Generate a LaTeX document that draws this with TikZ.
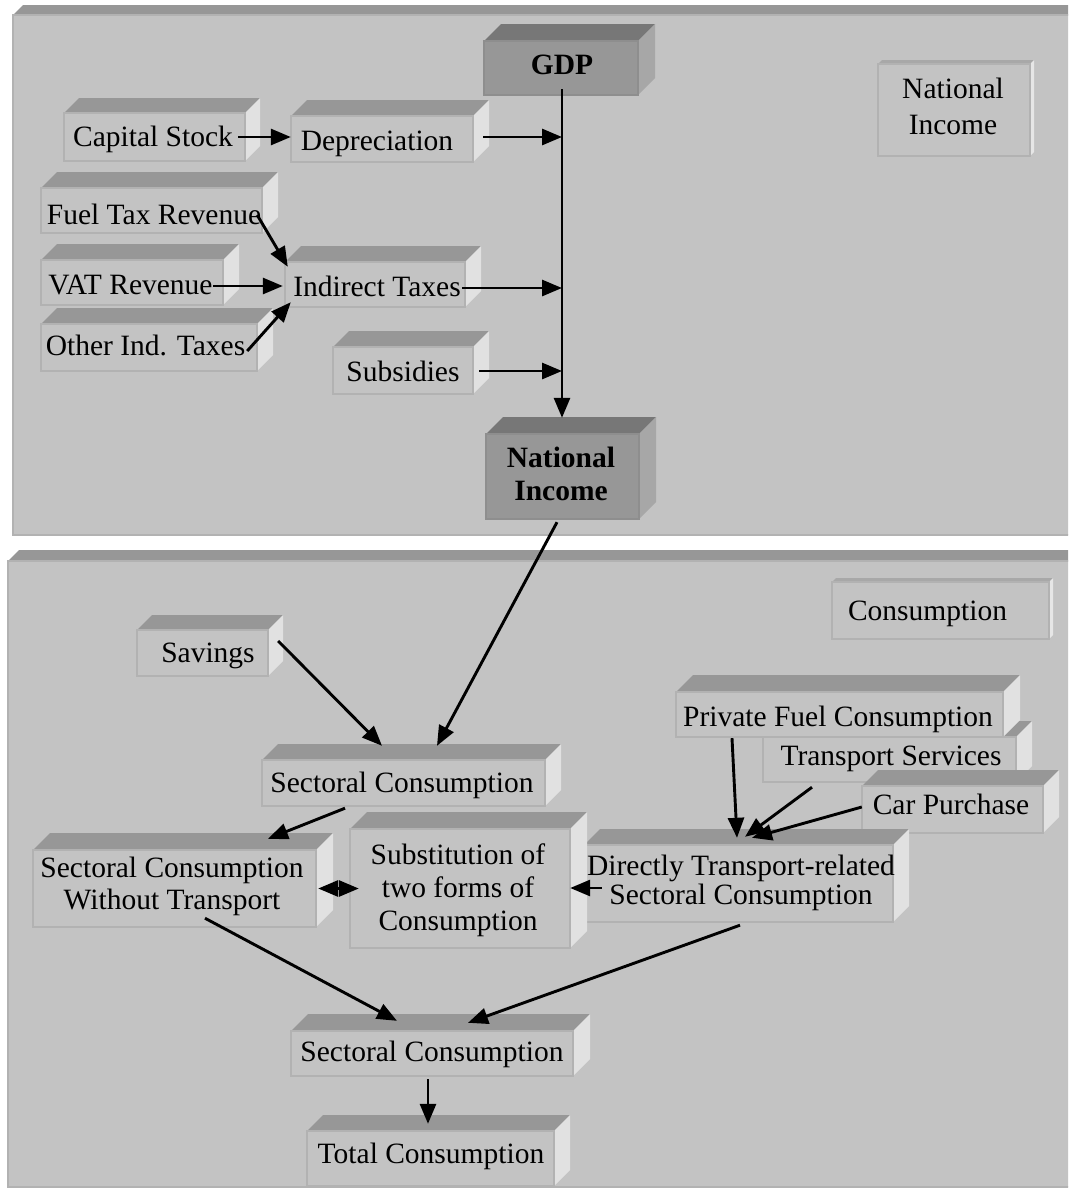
\documentclass[tikz,border=0pt]{standalone}
\usepackage{fontspec}
\setmainfont{Liberation Serif}
\usetikzlibrary{arrows.meta,calc,fit}

% shading tones for the bevelled slabs
\definecolor{ltTopC}{HTML}{979797}
\definecolor{ltSideC}{HTML}{E1E1E1}
\definecolor{ltFrontC}{HTML}{C3C3C3}
\definecolor{ltEdgeC}{HTML}{B2B2B2}
\definecolor{dkTopC}{HTML}{777777}
\definecolor{dkSideC}{HTML}{A7A7A7}
\definecolor{dkFrontC}{HTML}{979797}
\definecolor{dkEdgeC}{HTML}{8E8E8E}
\definecolor{lgTopC}{HTML}{A8A8A8}
\definecolor{lgSideC}{HTML}{E6E6E6}

\newcommand\lblfont{\fontsize{29.5}{32}\selectfont}

\tikzset{
  lttop/.style={fill=ltTopC},
  ltside/.style={fill=ltSideC},
  ltfront/.style={fill=ltFrontC},
  ltedge/.style={draw=ltEdgeC, line width=1.3pt},
  dktop/.style={fill=dkTopC},
  dkside/.style={fill=dkSideC},
  dkfront/.style={fill=dkFrontC},
  dkedge/.style={draw=dkEdgeC, line width=1.3pt},
  lgtop/.style={fill=lgTopC},
  lgside/.style={fill=lgSideC},
  lgfront/.style={fill=ltFrontC},
  lgedge/.style={draw=ltEdgeC, line width=1.3pt},
  pntop/.style={fill=ltTopC},
  pnside/.style={fill=ltSideC},
  pnfront/.style={fill=ltFrontC},
  pnedge/.style={draw=ltEdgeC, line width=2pt},
  lbl/.style={font=\lblfont, inner sep=0pt, anchor=base},
  blbl/.style={font={\lblfont\bfseries}, inner sep=0pt},
  mlbl/.style={inner sep=0pt, align=center},
  arr/.style={line width=2.9pt, -{Triangle[length=20pt,width=16pt]}},
  dblarr/.style={line width=2.9pt, {Triangle[length=20pt,width=16pt]}-{Triangle[length=20pt,width=16pt]}},
}

% bevelled slab: tone, name, x1, y1, x2, y2 (front face), depth
\newcommand\slab[7][lt]{%
  \fill[#1top] (#3,#4) -- (#3+#7,#4-#7) -- (#5+#7,#4-#7) -- (#5,#4) -- cycle;
  \fill[#1side] (#5,#4) -- (#5+#7,#4-#7) -- (#5+#7,#6-#7) -- (#5,#6) -- cycle;
  \fill[#1front] (#3,#4) rectangle (#5,#6);
  \draw[#1edge] (#3,#4) rectangle (#5,#6);
  \node[fit={(#3,#4)(#5,#6)}, inner sep=0pt] (#2) {};
}

\begin{document}
\begin{tikzpicture}[x=1pt,y=-1pt]
\useasboundingbox (0,0) rectangle (1068,1191);
\clip (0,0) rectangle (1068,1191);

% the two panels
\slab[pn]{toppanel}{13}{15}{1090}{535}{10}
\slab[pn]{lowpanel}{8}{561}{1090}{1187}{11}

% income side
\slab[dk]{gdpbox}{484}{41}{638}{95}{17}
\slab[dk]{nibox}{486}{434}{639}{519}{17}
\slab[lg]{nikey}{878}{64}{1030}{156}{4}
\slab{capbox}{64}{113}{245}{161}{15}
\slab{depbox}{291}{116}{473}{162}{16}
\slab{fuelbox}{41}{188}{262}{233}{16}
\slab{vatbox}{41}{260}{223}{305}{16}
\slab{oitbox}{41}{324}{257}{371}{16}
\slab{itbox}{285}{262}{465}{307}{16}
\slab{subbox}{333}{347}{473}{394}{16}

% consumption side
\slab[lg]{conskey}{832}{582}{1049}{639}{4}
\slab{savbox}{137}{630}{268}{676}{15}
\slab{sconebox}{262}{760}{545}{806}{16}
\slab{tsbox}{763}{737}{1016}{782}{16}
\slab{pfcbox}{676}{692}{1003}{737}{17}
\slab{cpbox}{862}{786}{1043}{833}{16}
\slab{dirbox}{584}{845}{893}{922}{16}
\slab{scwtbox}{33}{850}{316}{927}{17}
\slab{subsbox}{350}{829}{570}{948}{17}
\slab{sctwobox}{291}{1031}{573}{1076}{17}
\slab{totbox}{307}{1131}{554}{1186}{16}

% labels
\node[blbl, anchor=base] (gdp) at (562,74) {GDP};
\node[blbl, mlbl, font={\fontsize{29.5}{33}\selectfont\bfseries}] (ni) at (561,474) {National\\Income};
\node[mlbl, font={\fontsize{29.5}{36}\selectfont}] (nik) at (953,106) {National\\Income};
\node[lbl] (cap) at (153,146) {Capital Stock};
\node[lbl] (dep) at (377,150) {Depreciation};
\node[lbl] (fuel) at (154,224) {Fuel Tax Revenue};
\node[lbl] (vat) at (130.5,294) {VAT Revenue};
\node[lbl] (oit) at (145.5,355) {Other Ind. Taxes};
\node[lbl] (it) at (377,296) {Indirect Taxes};
\node[lbl] (sub) at (403,381) {Subsidies};

\node[lbl] (cons) at (927.5,620) {Consumption};
\node[lbl] (sav) at (208,662) {Savings};
\node[lbl] (scone) at (402,792) {Sectoral Consumption};
\node[lbl] (pfc) at (838,726) {Private Fuel Consumption};
\node[lbl] (ts) at (891,765) {Transport Services};
\node[lbl] (cp) at (951,814) {Car Purchase};
\node[mlbl, font={\fontsize{29.5}{29}\selectfont}] (dir) at (741,883) {Directly Transport-related\\Sectoral Consumption};
\node[mlbl, font={\fontsize{29.5}{32}\selectfont}] (scwt) at (172,886) {Sectoral Consumption\\Without Transport};
\node[mlbl, font={\fontsize{29.5}{33}\selectfont}] (subs) at (458,890) {Substitution of\\two forms of\\Consumption};
\node[lbl] (sctwo) at (432,1061) {Sectoral Consumption};
\node[lbl] (tot) at (431,1163) {Total Consumption};

% GDP to national income
\coordinate (j1) at ($(gdpbox.south |- capbox.east)+(1,0)$);
\coordinate (j2) at ($(gdpbox.south |- itbox.east)+(1,3.5)$);
\coordinate (j3) at ($(gdpbox.south |- subbox.east)+(1,0.5)$);
\draw[arr] ($(gdpbox.south)+(1,-6)$) -- ($(gdpbox.south |- nibox.north)+(1,-16)$);
\draw[arr] ($(capbox.east)+(-7,0)$) -- (depbox.west |- capbox.east);
\draw[arr] ($(depbox.east)+(10,-2)$) -- (j1);
\draw[arr] ($(itbox.east)+(-3,3.5)$) -- (j2);
\draw[arr] ($(subbox.east)+(6,0.5)$) -- (j3);
\draw[arr] ($(fuelbox.east)+(-5,4.5)$) -- ($(itbox.north west)+(3,5)$);
\draw[arr] ($(vatbox.east)+(-10,3.5)$) -- ($(itbox.west)+(-2,1.5)$);
\draw[arr] ($(oitbox.east)+(-10,3.5)$) -- ($(itbox.south west)+(6,-5)$);

% consumption flows
\draw[arr] ($(nibox.south)+(-5.5,3)$) -- ($(sconebox.north)+(33.5,-14)$);
\draw[arr] ($(savbox.east)+(10,-12)$) -- ($(sconebox.north)+(-21.5,-14)$);
\draw[arr] ($(sconebox.south)+(-58.5,2)$) -- ($(scwtbox.north)+(93.5,-11)$);
\draw[dblarr] ($(scwtbox.east)+(2,0)$) -- ($(subsbox.west)+(9,0)$);
\draw[arr] ($(dirbox.west)+(18,4.5)$) -- ($(subsbox.east)+(0,-0.5)$);
\draw[arr] ($(pfcbox.south)+(-107.5,1)$) -- ($(dirbox.north)+(-1.5,-7)$);
\draw[arr] ($(tsbox.south)+(-77.5,5)$) -- ($(dirbox.north)+(6.5,-8)$);
\draw[arr] ($(cpbox.west)+(0,-2.5)$) -- ($(dirbox.north)+(13.5,-7)$);
\draw[arr] ($(scwtbox.south)+(30.5,-9)$) -- ($(sctwobox.north)+(-35,-10)$);
\draw[arr] ($(dirbox.south)+(1.5,3)$) -- ($(sctwobox.north)+(36,-8)$);
\draw[arr] ($(sctwobox.south)+(-4,3)$) -- ($(totbox.north)+(-2.5,-7)$);
\end{tikzpicture}
\end{document}
